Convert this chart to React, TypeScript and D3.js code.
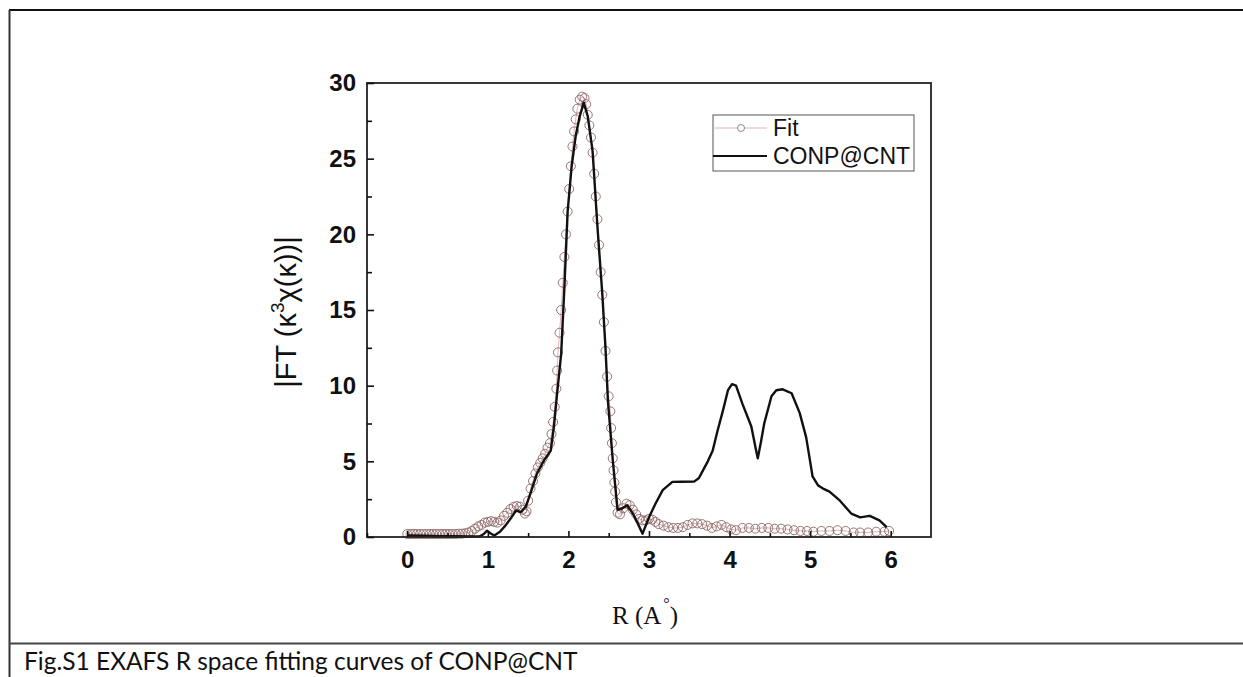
import React, { useEffect, useRef } from "react";
import * as d3 from "d3";

// fitted curve (open circles)
const fitR = [
  0.0, 0.04, 0.08, 0.12, 0.16, 0.2, 0.24, 0.28, 0.32, 0.36, 0.4, 0.44, 0.48, 0.52, 0.56, 0.6,
  0.64, 0.68, 0.72, 0.76, 0.8, 0.84, 0.88, 0.92, 0.96, 1.0, 1.04, 1.08, 1.12, 1.16, 1.2, 1.24,
  1.28, 1.32, 1.36, 1.4, 1.43, 1.46, 1.48, 1.5, 1.53, 1.56, 1.59, 1.62, 1.65, 1.68, 1.71, 1.74,
  1.77, 1.79, 1.81, 1.83, 1.85, 1.86, 1.87, 1.89, 1.91, 1.93, 1.95, 1.97, 1.99, 2.01, 2.03, 2.05,
  2.07, 2.09, 2.11, 2.14, 2.17, 2.2, 2.22, 2.24, 2.26, 2.28, 2.3, 2.32, 2.34, 2.36, 2.38, 2.4,
  2.42, 2.44, 2.46, 2.48, 2.5, 2.52, 2.53, 2.54, 2.55, 2.56, 2.57, 2.58, 2.59, 2.61, 2.64, 2.68,
  2.72, 2.76, 2.8, 2.84, 2.88, 2.92, 2.96, 3.0, 3.04, 3.08, 3.12, 3.18, 3.24, 3.3, 3.36, 3.42,
  3.48, 3.54, 3.6, 3.66, 3.72, 3.78, 3.84, 3.9, 3.96, 4.02, 4.08, 4.16, 4.24, 4.32, 4.4, 4.48,
  4.56, 4.64, 4.72, 4.8, 4.88, 4.96, 5.04, 5.14, 5.24, 5.34, 5.44, 5.54, 5.62, 5.72, 5.82, 5.92,
  5.98
];
const fitFT = [
  0.2, 0.2, 0.2, 0.2, 0.2, 0.2, 0.2, 0.2, 0.2, 0.2, 0.2, 0.2, 0.2, 0.2, 0.2, 0.2,
  0.22, 0.22, 0.25, 0.3, 0.4, 0.55, 0.7, 0.8, 0.95, 1.0, 1.05, 1.0, 0.95, 1.1, 1.4, 1.6,
  1.85, 2.0, 2.05, 2.0, 1.8, 1.55, 1.7, 2.4, 3.2, 3.7, 4.2, 4.6, 4.9, 5.2, 5.5, 5.9,
  6.2, 6.8, 7.6, 8.6, 9.8, 11.0, 12.2, 13.5, 15.0, 16.8, 18.5, 20.0, 21.5, 23.0, 24.5, 25.8,
  26.8, 27.6, 28.3, 28.9, 29.1, 29.0, 28.6, 27.9, 27.2, 26.4, 25.4, 24.0, 22.5, 21.0, 19.3, 17.5,
  16.0, 14.2, 12.3, 10.6, 9.3, 8.3, 7.2, 6.2, 5.2, 4.4, 3.6, 3.0, 2.3, 1.6, 1.5, 1.9,
  2.2, 2.1, 1.8, 1.5, 1.2, 1.1, 1.1, 1.2, 1.15, 1.0, 0.85, 0.75, 0.65, 0.6, 0.6, 0.65,
  0.8, 0.9, 0.9, 0.85, 0.75, 0.6, 0.7, 0.8, 0.65, 0.5, 0.45, 0.6, 0.6, 0.55, 0.6, 0.6,
  0.55, 0.55, 0.5, 0.45, 0.4, 0.4, 0.35, 0.4, 0.4, 0.45, 0.4, 0.3, 0.3, 0.3, 0.35, 0.35,
  0.4
];

// measured CONP@CNT (black line)
const expR = [
  0.0, 0.2, 0.4, 0.6, 0.8, 0.9, 0.95, 0.99, 1.03, 1.08, 1.15, 1.22, 1.28, 1.35, 1.41, 1.47,
  1.53, 1.61, 1.7, 1.78, 1.82, 1.86, 1.91, 1.95, 1.99, 2.04, 2.09, 2.14, 2.19, 2.24, 2.3, 2.36,
  2.42, 2.46, 2.49, 2.55, 2.61, 2.67, 2.73, 2.8, 2.86, 2.92, 3.0, 3.08, 3.17, 3.29, 3.4, 3.56,
  3.62, 3.67, 3.73, 3.79, 3.85, 3.92, 3.98, 4.03, 4.08, 4.16, 4.27, 4.33, 4.35, 4.39, 4.43, 4.52,
  4.58, 4.66, 4.77, 4.87, 4.95, 5.0, 5.03, 5.1, 5.16, 5.24, 5.37, 5.51, 5.62, 5.74, 5.86, 5.95
];
const expFT = [
  0.1, 0.08, 0.06, 0.05, 0.03, 0.05, 0.2, 0.42, 0.25, 0.1, 0.35, 0.77, 1.2, 1.75, 1.65, 2.0,
  2.9, 4.2, 5.1, 5.7, 7.3, 9.5, 12.1, 16.5, 21.5, 24.5, 26.5, 27.8, 28.7, 27.8, 25.5, 20.5,
  16.1, 12.5, 9.0, 5.1, 1.8, 1.9, 2.1, 1.55, 0.9, 0.22, 1.3, 2.2, 3.1, 3.64, 3.65, 3.66,
  3.9, 4.4, 5.0, 5.7, 7.0, 8.4, 9.7, 10.1, 10.0, 8.8, 7.3, 5.7, 5.2, 6.3, 7.5, 9.3,
  9.7, 9.76, 9.5, 8.2, 6.6, 5.0, 4.0, 3.4, 3.2, 3.0, 2.4, 1.55, 1.3, 1.4, 1.1, 0.66
];

const xMajor = [0, 1, 2, 3, 4, 5, 6];
const xMinor = [-0.5, 0.5, 1.5, 2.5, 3.5, 4.5, 5.5];
const yMajor = [0, 5, 10, 15, 20, 25, 30];
const yMinor = [2.5, 7.5, 12.5, 17.5, 22.5, 27.5];

const seriesNames = ["Fit", "CONP@CNT"];
const caption = "Fig.S1 EXAFS R space fitting curves of CONP@CNT";

const W = 1243;
const H = 677;
const plot = { left: 367, right: 931, top: 83, bottom: 537 };
const sans = "'Liberation Sans', Arial, sans-serif";
const serif = "'Liberation Serif', 'Times New Roman', serif";
const fitLine = "#e2b4b4";
const fitDot = "#86605f";

export default function App() {
  const axRef = useRef<SVGGElement>(null);

  const x = d3.scaleLinear().domain([-0.5, 6.5]).range([plot.left, plot.right]);
  const y = d3.scaleLinear().domain([0, 30]).range([plot.bottom, plot.top]);

  const fitPts = fitR.map((r, i) => [r, fitFT[i]] as [number, number]);
  const expPts = expR.map((r, i) => [r, expFT[i]] as [number, number]);

  const line = d3
    .line<[number, number]>()
    .x(d => x(d[0]))
    .y(d => y(d[1]));

  useEffect(() => {
    const g = d3.select(axRef.current);
    g.selectAll("*").remove();

    const xa = g.append("g").attr("transform", `translate(0,${plot.bottom})`);
    xa.call(
      d3.axisBottom(x).tickValues(xMajor).tickSize(-6).tickPadding(14).tickFormat(d3.format("d"))
    );
    const xm = g.append("g").attr("transform", `translate(0,${plot.bottom})`);
    xm.call(d3.axisBottom(x).tickValues(xMinor).tickSize(-4).tickFormat(() => ""));

    const ya = g.append("g").attr("transform", `translate(${plot.left},0)`);
    ya.call(
      d3.axisLeft(y).tickValues(yMajor).tickSize(-7).tickPadding(11).tickFormat(d3.format("d"))
    );
    const ym = g.append("g").attr("transform", `translate(${plot.left},0)`);
    ym.call(d3.axisLeft(y).tickValues(yMinor).tickSize(-5).tickFormat(() => ""));

    g.selectAll(".domain").remove();
    g.selectAll(".tick line").attr("stroke", "#111").attr("stroke-width", 1.6);
    g.selectAll(".tick text")
      .attr("fill", "#111")
      .style("font-family", sans)
      .style("font-weight", "bold")
      .style("font-size", "24px");
  }, []);

  return (
    <svg
      width={W}
      height={H}
      style={{ position: "absolute", left: 0, top: 0, background: "#fff" }}
    >
      <rect x={0} y={0} width={W} height={H} fill="#fff" />
      {/* page frame */}
      <line x1={9} x2={W} y1={10} y2={10} stroke="#111" strokeWidth={2} />
      <line x1={9.5} x2={9.5} y1={10} y2={H} stroke="#333" strokeWidth={2} />
      <line x1={9} x2={W} y1={643.5} y2={643.5} stroke="#444" strokeWidth={2} />
      <text x={24} y={670} fontFamily="Lato, 'Open Sans', sans-serif" fontSize={24.5} fill="#111">
        {caption}
      </text>

      {/* fit */}
      <path d={line(fitPts) || ""} fill="none" stroke={fitLine} strokeWidth={1} />
      {fitPts.map((p, i) => (
        <circle
          key={i}
          cx={x(p[0])}
          cy={y(p[1])}
          r={4.5}
          fill="none"
          stroke={fitDot}
          strokeWidth={1}
          opacity={0.85}
        />
      ))}
      {/* measured */}
      <path d={line(expPts) || ""} fill="none" stroke="#111" strokeWidth={2.4} strokeLinejoin="round" />

      {/* plot frame */}
      <rect
        x={plot.left}
        y={plot.top}
        width={plot.right - plot.left}
        height={plot.bottom - plot.top}
        fill="none"
        stroke="#222"
        strokeWidth={1.8}
      />
      <g ref={axRef} />

      {/* legend */}
      <g>
        <rect x={713} y={115} width={201} height={56} fill="#fff" stroke="#555" strokeWidth={1} />
        <line x1={713} x2={767} y1={128} y2={128} stroke={fitLine} strokeWidth={1} />
        <circle cx={741} cy={128} r={3.5} fill="#fff" stroke="#888" strokeWidth={1} />
        <text x={773} y={136} fontFamily={sans} fontSize={23} fill="#111">
          {seriesNames[0]}
        </text>
        <line x1={713} x2={767} y1={156} y2={156} stroke="#111" strokeWidth={2.2} />
        <text x={773} y={164} fontFamily={sans} fontSize={23} fill="#111">
          {seriesNames[1]}
        </text>
      </g>

      {/* axis titles */}
      <text
        transform="translate(296,312) rotate(-90)"
        textAnchor="middle"
        fontFamily={sans}
        fontSize={29}
        fill="#111"
      >
        |FT (κ<tspan dy={-12} fontSize={19}>3</tspan>
        <tspan dy={12}>χ(κ))|</tspan>
      </text>
      <text x={612} y={624} fontFamily={serif} fontSize={25} fill="#111">
        R (A<tspan dx={2} dy={-15} fontSize={16}>°</tspan>
        <tspan dy={15}>)</tspan>
      </text>
    </svg>
  );
}
